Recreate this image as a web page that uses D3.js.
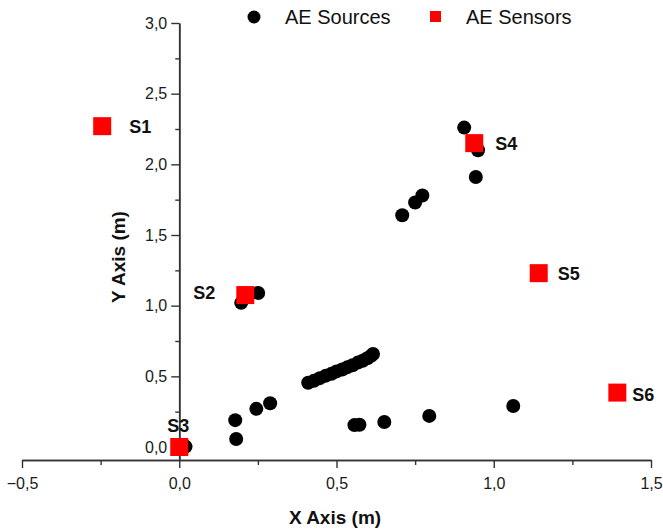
<!DOCTYPE html>
<html>
<head>
<meta charset="utf-8">
<script src="https://cdn.jsdelivr.net/npm/d3@7"></script>
<style>
  html, body { margin: 0; padding: 0; background: #fff; }
  svg { display: block; font-family: "Liberation Sans", Arial, sans-serif; }
</style>
</head>
<body>
<svg id="chart" width="663" height="531"></svg>
<script>
// ---- data ----
const sourceX = [0.906, 0.950, 0.943, 0.773, 0.750, 0.709,
                 0.197, 0.251, 0.215,
                 0.178, 0.181, 0.245, 0.289, 0.020,
                 0.557, 0.573, 0.652, 0.795, 1.062,
                 0.410, 0.428, 0.447, 0.466, 0.484, 0.500, 0.518,
                 0.535, 0.551, 0.568, 0.583, 0.598, 0.610, 0.616];
const sourceY = [2.26, 2.10, 1.91, 1.78, 1.73, 1.64,
                 1.02, 1.09, 1.07,
                 0.19, 0.057, 0.27, 0.31, 0.003,
                 0.155, 0.157, 0.177, 0.22, 0.29,
                 0.455, 0.468, 0.487, 0.505, 0.518, 0.535, 0.548,
                 0.565, 0.578, 0.597, 0.610, 0.628, 0.645, 0.658];
const sensorNames = ["S1", "S2", "S3", "S4", "S5", "S6"];
const sensorX = [-0.245, 0.210, 0.000, 0.938, 1.143, 1.393];
const sensorY = [2.27, 1.075, 0.00, 2.15, 1.23, 0.385];
const xTicks = [-0.5, 0.0, 0.5, 1.0, 1.5];
const yTicks = [0.0, 0.5, 1.0, 1.5, 2.0, 2.5, 3.0];
const xMinorTicks = [-0.25, 0.25, 0.75, 1.25];
const yMinorTicks = [0.25, 0.75, 1.25, 1.75, 2.25, 2.75];
const legendLabels = ["AE Sources", "AE Sensors"];
const xTitle = "X Axis (m)";
const yTitle = "Y Axis (m)";

// ---- layout ----
const svg = d3.select("#chart");
const x = d3.scaleLinear().domain([-0.5, 1.5]).range([22, 651]);
const y = d3.scaleLinear().domain([0, 3]).range([447, 23]);
const xAxisY = 460;
const fmt = d => d3.format(".1f")(d).replace(".", ",");

// x axis
const gx = svg.append("g").attr("transform", `translate(0,${xAxisY})`);
gx.call(d3.axisBottom(x).tickValues(xTicks).tickFormat(fmt).tickSize(8).tickSizeOuter(0));
gx.append("g").call(d3.axisBottom(x).tickValues(xMinorTicks).tickFormat("").tickSize(5).tickSizeOuter(0));
gx.selectAll(".domain").attr("stroke", "#333").attr("stroke-width", 1.6);
gx.selectAll(".tick line").attr("stroke", "#333").attr("stroke-width", 1.4);
gx.selectAll(".tick text").attr("font-size", 16).attr("fill", "#1a1a1a").attr("dy", "1.15em")
  .attr("font-family", "Liberation Sans, Arial, sans-serif");

// y axis positioned at x = 0
const gy = svg.append("g").attr("transform", `translate(${x(0)},0)`);
const yFull = d3.scaleLinear().domain([y.invert(xAxisY), 3]).range([xAxisY, 23]);
gy.call(d3.axisLeft(yFull).tickValues(yTicks).tickFormat(fmt).tickSize(8).tickSizeOuter(0));
gy.append("g").call(d3.axisLeft(yFull).tickValues(yMinorTicks).tickFormat("").tickSize(4).tickSizeOuter(0));
gy.selectAll(".domain").attr("stroke", "#333").attr("stroke-width", 1.6);
gy.selectAll(".tick line").attr("stroke", "#333").attr("stroke-width", 1.4);
gy.selectAll(".tick text").attr("font-size", 16).attr("fill", "#1a1a1a").attr("x", -12)
  .attr("font-family", "Liberation Sans, Arial, sans-serif");

// axis titles
svg.append("text").attr("x", 335).attr("y", 524).attr("text-anchor", "middle")
  .attr("font-size", 19).attr("font-weight", "bold").attr("fill", "#111").text(xTitle);
svg.append("text").attr("transform", "translate(125,257) rotate(-90)").attr("text-anchor", "middle")
  .attr("font-size", 19).attr("font-weight", "bold").attr("fill", "#111").text(yTitle);

// sources
const sources = sourceX.map((d, i) => ({x: d, y: sourceY[i]}));
svg.append("g").selectAll("circle").data(sources).join("circle")
  .attr("cx", d => x(d.x)).attr("cy", d => y(d.y)).attr("r", 7).attr("fill", "#000");

// sensors
const sensors = sensorNames.map((n, i) => ({name: n, x: sensorX[i], y: sensorY[i]}));
const sq = 18;
svg.append("g").selectAll("rect").data(sensors).join("rect")
  .attr("x", d => x(d.x) - sq / 2).attr("y", d => y(d.y) - sq / 2)
  .attr("width", sq).attr("height", sq).attr("fill", "#ff0000");

// sensor labels (offsets in px relative to sensor position)
const labelOffsets = {S1: [27, 0], S2: [-52, -3], S3: [-12, -21], S4: [21, 0], S5: [19, 0], S6: [15, 2]};
svg.append("g").selectAll("text").data(sensors).join("text")
  .attr("x", d => x(d.x) + labelOffsets[d.name][0])
  .attr("y", d => y(d.y) + labelOffsets[d.name][1])
  .attr("dy", "0.36em")
  .attr("font-size", 18).attr("font-weight", "bold").attr("fill", "#111")
  .text(d => d.name);

// legend
const lg = svg.append("g");
lg.append("circle").attr("cx", 254).attr("cy", 17).attr("r", 6.5).attr("fill", "#000");
lg.append("text").attr("x", 285).attr("y", 24).attr("font-size", 20).attr("fill", "#111").text(legendLabels[0]);
lg.append("rect").attr("x", 430).attr("y", 11).attr("width", 11).attr("height", 11).attr("fill", "#ff0000");
lg.append("text").attr("x", 466).attr("y", 24).attr("font-size", 20).attr("fill", "#111").text(legendLabels[1]);
</script>
</body>
</html>
